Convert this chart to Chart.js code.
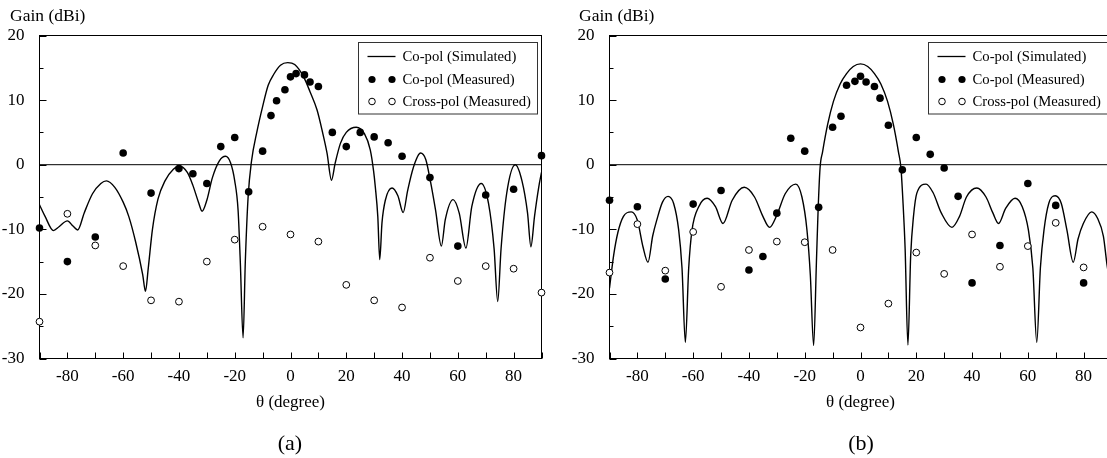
<!DOCTYPE html>
<html>
<head>
<meta charset="utf-8">
<script src="https://cdn.jsdelivr.net/npm/chart.js@4.4.1/dist/chart.umd.min.js"></script>
<style>
  html, body { margin: 0; padding: 0; background: #fff; overflow: hidden; }
  body { width: 1107px; height: 458px; position: relative; font-family: 'Liberation Serif', serif; color: #000; }
  canvas { position: absolute; top: 0; }
  .ylab { position: absolute; top: 5px; font-size: 17.5px; line-height: 20px; white-space: nowrap; }
  .cap { position: absolute; top: 430px; width: 60px; margin-left: -30px; text-align: center; font-size: 22px; line-height: 26px; }
</style>
</head>
<body>
<canvas id="chartA" width="556" height="458" style="left:0px;width:556px;height:458px"></canvas>
<canvas id="chartB" width="556" height="458" style="left:570px;width:556px;height:458px"></canvas>
<div class="ylab" style="left:10px">Gain (dBi)</div>
<div class="ylab" style="left:579px">Gain (dBi)</div>
<div class="cap" style="left:290px">(a)</div>
<div class="cap" style="left:861px">(b)</div>
<script>
// tick labels
var xTicks = [-80, -60, -40, -20, 0, 20, 40, 60, 80];
var yTicks = [-30, -20, -10, 0, 10, 20];

// (a) simulated co-pol
var simThetaA = [-90,-88,-85,-83,-80,-78,-76.3,-74,-71,-68,-66,-63,-60,-58,-55.5,-53,-52,-51,-49.5,-47.5,-45,-42,-39.8,-37,-35,-33,-31.7,-30,-28,-25.5,-23.3,-21.5,-20,-18.8,-18,-17,-16.2,-15.2,-14,-12,-10,-8,-6,-3.6,-1,1.5,4.7,7,9.5,11.5,13.1,14.7,16,17.9,20,23.6,26.5,28.6,29.8,30.4,31.3,32,32.8,34,36.4,38.5,40.4,42,44,46.6,48.5,50.1,52,54.1,55.5,58.3,60.5,62.9,65,68.4,71,73,74.3,75.5,77.5,80.6,83,85,86.2,87.5,89,90];
var simGainA = [-6.2,-8,-10.2,-9.6,-8.7,-9.5,-10.1,-7.5,-4.5,-2.9,-2.5,-3.5,-5.8,-8,-12,-17,-19.6,-16,-10,-5.3,-2.5,-0.7,-0.2,-1.2,-3.2,-5.8,-7.2,-5.5,-2,0.6,1.3,0.3,-2.5,-7,-15,-26.8,-15,-5,0.5,5.2,9,12.3,14,15.4,15.8,15.5,13.6,11.3,8.5,5,1.8,-2.4,0.2,3.3,5,5.8,4.8,2.3,-1,-3.4,-8,-14.7,-9,-5.5,-3.6,-4.8,-7.4,-4,-0.5,1.8,0.8,-2.4,-7,-12.6,-8.5,-5.4,-7.5,-12.9,-6.5,-2.9,-6,-13,-21.2,-13,-4.5,0,-2.5,-7.5,-12.7,-8,-3.5,-1.2];

// (a) measured co-pol
var coThetaA = [-90,-80,-70,-60,-50,-40,-35,-30,-25,-20,-15,-10,-7,-5,-2,0,2,5,7,10,15,20,25,30,35,40,50,60,70,80,90];
var coGainA = [-9.8,-15,-11.2,1.8,-4.4,-0.6,-1.4,-2.9,2.8,4.2,-4.2,2.1,7.6,9.9,11.6,13.6,14.1,13.9,12.8,12.1,5.0,2.8,5.0,4.3,3.4,1.3,-2.0,-12.6,-4.7,-3.8,1.4];

// (a) measured cross-pol
var xpThetaA = [-90,-80,-70,-60,-50,-40,-30,-20,-10,0,10,20,30,40,50,60,70,80,90];
var xpGainA = [-24.3,-7.6,-12.5,-15.7,-21,-21.2,-15,-11.6,-9.6,-10.8,-11.9,-18.6,-21,-22.1,-14.4,-18,-15.7,-16.1,-19.8];

// (b) simulated co-pol
var simThetaB = [-90,-88.5,-87,-85,-82.2,-80,-78,-76.2,-74.5,-73,-71,-69,-67,-65.2,-64,-62.8,-61.6,-60.4,-58,-55,-52,-49.3,-46,-41.7,-38,-35,-32.6,-30,-27,-23.2,-21,-19.2,-18,-16.8,-15.8,-15.2,-14.5,-13.6,-11.8,-9.7,-7.3,-5,-2.6,0,2.6,5,7.3,9.7,11.8,13.6,14.5,15.2,16,17,18,19,20.2,23.5,26,29,32.8,35.5,38,41.7,45,47.5,49.5,52,55.4,58,60.2,61.8,63.2,64.5,65.8,67.5,69.8,72,74,76.3,78,79.9,82.9,85,87.1,88.4,90];
var simGainB = [-19.1,-14,-10.5,-8,-7.3,-8.6,-12.7,-15.1,-11,-8.5,-5.8,-4.9,-6,-10.1,-16,-27.5,-16,-10.1,-6.5,-5.2,-6.5,-9.1,-5.5,-3.5,-5,-8,-9.7,-7.8,-4.5,-3.0,-5,-10.1,-17,-28,-15,-7,-0.5,2,6.2,9.8,12.5,14.1,15.2,15.6,15.2,14.1,12.5,9.8,6.2,2,-0.5,-5.5,-13,-27.9,-14,-8,-4.4,-3.0,-4.3,-7.5,-9.7,-8,-5,-3.6,-5,-7.5,-9.1,-6.8,-5.2,-6.5,-10.1,-16,-27.5,-16,-10.1,-6,-4.8,-6,-10.1,-15.1,-11.5,-9.1,-7.3,-8.3,-11.1,-15.5,-19.5];

// (b) measured co-pol
var coThetaB = [-90,-80,-70,-60,-50,-40,-35,-30,-25,-20,-15,-10,-7,-5,-2,0,2,5,7,10,15,20,25,30,35,40,50,60,70,80];
var coGainB = [-5.5,-6.5,-17.7,-6.1,-4.0,-16.3,-14.2,-7.5,4.1,2.1,-6.6,5.8,7.5,12.3,12.9,13.7,12.8,12.1,10.3,6.1,-0.8,4.2,1.6,-0.5,-4.9,-18.3,-12.5,-2.9,-6.3,-18.3];

// (b) measured cross-pol
var xpThetaB = [-90,-80,-70,-60,-50,-40,-30,-20,-10,0,10,20,30,40,50,60,70,80];
var xpGainB = [-16.7,-9.2,-16.4,-10.4,-18.9,-13.2,-11.9,-12.0,-13.2,-25.2,-21.5,-13.6,-16.9,-10.8,-15.8,-12.6,-9.0,-15.9];

var legendLabels = ['Co-pol (Simulated)', 'Co-pol (Measured)', 'Cross-pol (Measured)'];

Chart.defaults.font.family = "'Liberation Serif', serif";
Chart.defaults.color = '#000';

function pts(xs, ys) {
    return xs.map(function (x, i) { return {x: x, y: ys[i]}; });
}

// box, zero line, inward ticks and the boxed legend
var frame = {
    id: 'frame',
    beforeDatasetsDraw: function (chart) {
        var ctx = chart.ctx, a = chart.chartArea, x = chart.scales.x, y = chart.scales.y;
        ctx.save();
        ctx.strokeStyle = '#000';
        ctx.lineWidth = 1;
        ctx.strokeRect(a.left, a.top, a.right - a.left, a.bottom - a.top);
        var y0 = y.getPixelForValue(0);
        ctx.beginPath();
        ctx.moveTo(a.left, y0);
        ctx.lineTo(a.right, y0);
        for (var v = -30; v <= 20; v += 5) {
            var py = Math.round(y.getPixelForValue(v)) + 0.5;
            ctx.moveTo(a.left, py);
            ctx.lineTo(a.left + (v % 10 === 0 ? 7 : 4), py);
        }
        for (var t = -90; t <= 90; t += 10) {
            var px = Math.round(x.getPixelForValue(t)) + 0.5;
            ctx.moveTo(px, a.bottom);
            ctx.lineTo(px, a.bottom - 6);
        }
        ctx.stroke();
        ctx.restore();
    },
    afterDraw: function (chart) {
        var ctx = chart.ctx, a = chart.chartArea;
        var w = 179, h = 71.5;
        var bx = Math.round(a.right - 4.5 - w) + 0.5, by = Math.round(a.top + 6.5) + 0.5;
        ctx.save();
        ctx.fillStyle = '#fff';
        ctx.fillRect(bx, by, w, h);
        ctx.strokeStyle = '#333';
        ctx.lineWidth = 1;
        ctx.strokeRect(bx, by, w, h);
        ctx.font = "14.7px 'Liberation Serif'";
        ctx.textBaseline = 'middle';
        ctx.fillStyle = '#000';
        var rows = [by + 14, by + 37, by + 59];
        ctx.beginPath();
        ctx.moveTo(bx + 9, rows[0]);
        ctx.lineTo(bx + 37, rows[0]);
        ctx.lineWidth = 1.3;
        ctx.strokeStyle = '#000';
        ctx.stroke();
        [13.5, 33.5].forEach(function (dx) {
            ctx.beginPath();
            ctx.arc(bx + dx, rows[1], 3.6, 0, Math.PI * 2);
            ctx.fill();
            ctx.beginPath();
            ctx.arc(bx + dx, rows[2], 3.3, 0, Math.PI * 2);
            ctx.lineWidth = 1;
            ctx.stroke();
        });
        legendLabels.forEach(function (s, i) {
            ctx.fillText(s, bx + 44, rows[i] + 1);
        });
        ctx.restore();
    }
};

function makeChart(id, sim, co, xp) {
    return new Chart(document.getElementById(id), {
        type: 'scatter',
        data: {
            datasets: [{
                label: legendLabels[1],
                data: co,
                pointRadius: 3.8,
                pointBackgroundColor: '#000',
                pointBorderColor: '#000',
                pointBorderWidth: 0,
                clip: false
            }, {
                label: legendLabels[2],
                data: xp,
                pointRadius: 3.4,
                pointBackgroundColor: '#fff',
                pointBorderColor: '#000',
                pointBorderWidth: 1,
                clip: false
            }, {
                label: legendLabels[0],
                data: sim,
                showLine: true,
                pointRadius: 0,
                borderColor: '#000',
                borderWidth: 1.4,
                cubicInterpolationMode: 'monotone',
                fill: false
            }]
        },
        options: {
            responsive: false,
            animation: false,
            events: [],
            layout: {padding: {left: 0, top: 35.5, right: 14.5, bottom: 39.5}},
            plugins: {legend: {display: false}, tooltip: {enabled: false}},
            scales: {
                x: {
                    type: 'linear',
                    min: -90,
                    max: 90,
                    grid: {display: false},
                    border: {display: false},
                    afterBuildTicks: function (s) { s.ticks = xTicks.map(function (v) { return {value: v}; }); },
                    afterFit: function (s) { s.height = 60; },
                    ticks: {font: {size: 17}, padding: 0, maxRotation: 0},
                    title: {display: true, text: 'θ (degree)', font: {size: 17}, padding: {top: 0, bottom: 6}}
                },
                y: {
                    type: 'linear',
                    min: -30,
                    max: 20,
                    grid: {display: false},
                    border: {display: false},
                    afterBuildTicks: function (s) { s.ticks = yTicks.map(function (v) { return {value: v}; }); },
                    afterFit: function (s) { s.width = 39.5; },
                    ticks: {font: {size: 17}, padding: 7}
                }
            }
        },
        plugins: [frame]
    });
}

makeChart('chartA', pts(simThetaA, simGainA), pts(coThetaA, coGainA), pts(xpThetaA, xpGainA));
makeChart('chartB', pts(simThetaB, simGainB), pts(coThetaB, coGainB), pts(xpThetaB, xpGainB));
</script>
</body>
</html>
